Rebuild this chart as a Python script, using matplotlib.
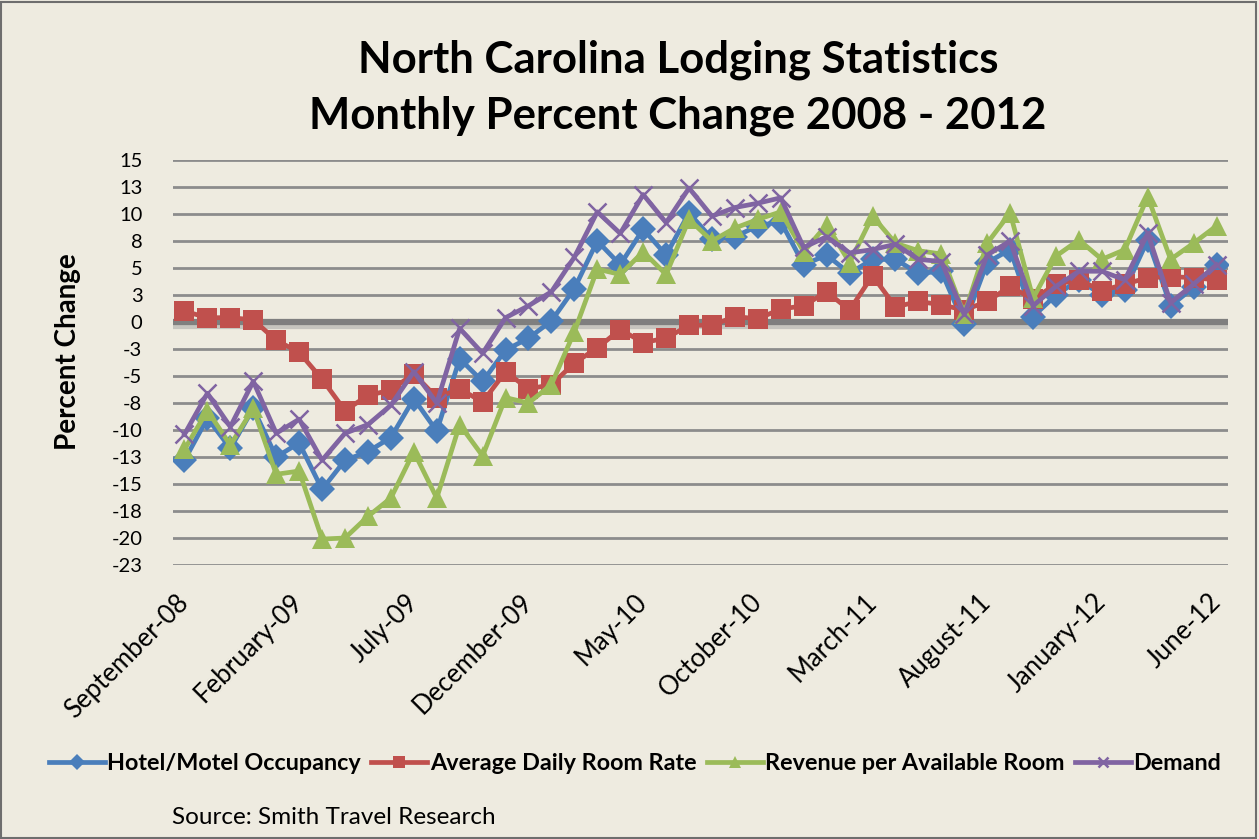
import matplotlib
matplotlib.use("Agg")
import matplotlib.pyplot as plt
import matplotlib.patheffects as pe
import numpy as np

# ---- data ----
months = ["September-08","October-08","November-08","December-08","January-09","February-09",
          "March-09","April-09","May-09","June-09","July-09","August-09","September-09",
          "October-09","November-09","December-09","January-10","February-10","March-10",
          "April-10","May-10","June-10","July-10","August-10","September-10","October-10",
          "November-10","December-10","January-11","February-11","March-11","April-11",
          "May-11","June-11","July-11","August-11","September-11","October-11","November-11",
          "December-11","January-12","February-12","March-12","April-12","May-12","June-12"]

occupancy = [-12.8, -8.9, -11.7, -8.0, -12.5, -11.2, -15.5, -12.8, -12.0, -10.7,
             -7.1, -10.1, -3.4, -5.5, -2.6, -1.5, 0.1, 3.1, 7.5, 5.3,
             8.6, 6.2, 10.1, 7.7, 7.9, 8.9, 9.3, 5.3, 6.2, 4.5,
             5.8, 5.8, 4.5, 4.7, -0.2, 5.5, 6.7, 0.5, 2.5, 3.9,
             2.5, 3.0, 7.6, 1.5, 3.2, 5.3]

adr = [1.0, 0.4, 0.4, 0.2, -1.7, -2.8, -5.3, -8.2, -6.8, -6.3,
       -4.8, -7.0, -6.2, -7.4, -4.6, -6.2, -5.8, -3.8, -2.4, -0.7,
       -1.9, -1.5, -0.3, -0.3, 0.5, 0.3, 1.2, 1.5, 2.8, 1.1,
       4.3, 1.4, 1.9, 1.6, 1.1, 1.9, 3.3, 2.1, 3.5, 3.9,
       2.9, 3.5, 4.1, 4.2, 4.1, 3.9]

revpar = [-11.8, -8.2, -11.4, -8.0, -14.1, -13.8, -20.1, -20.0, -18.0, -16.3,
          -12.0, -16.3, -9.5, -12.4, -7.0, -7.5, -5.8, -0.9, 4.9, 4.4,
          6.5, 4.4, 9.5, 7.5, 8.7, 9.5, 10.2, 6.5, 9.0, 5.5,
          9.8, 7.3, 6.6, 6.3, 0.7, 7.3, 10.1, 2.2, 6.1, 7.6,
          5.8, 6.7, 11.6, 5.8, 7.3, 8.9]

demand = [-10.4, -6.6, -9.7, -5.5, -10.3, -9.0, -12.8, -10.3, -9.5, -7.7,
          -4.6, -7.5, -0.6, -2.9, 0.4, 1.5, 2.8, 6.0, 10.2, 8.2,
          11.8, 9.2, 12.4, 9.8, 10.6, 11.0, 11.5, 6.9, 7.9, 6.4,
          6.7, 7.2, 5.8, 5.6, 0.7, 6.2, 7.5, 1.5, 3.3, 4.7,
          4.7, 3.9, 8.2, 1.8, 3.5, 5.3]

series_names = ["Hotel/Motel Occupancy", "Average Daily Room Rate",
                "Revenue per Available Room", "Demand"]

ytick_values = [15, 12.5, 10, 7.5, 5, 2.5, 0, -2.5, -5, -7.5, -10, -12.5, -15, -17.5, -20, -22.5]
ytick_labels = ["15", "13", "10", "8", "5", "3", "0", "-3", "-5", "-8",
                "-10", "-13", "-15", "-18", "-20", "-23"]

title_lines = ["North Carolina Lodging Statistics", "Monthly Percent Change 2008 - 2012"]
source = "Source: Smith Travel Research"

# ---- style ----
BG = "#EEEBE0"
FONT = "Lato"
plt.rcParams["font.family"] = [FONT, "DejaVu Sans"]

W, H = 1259, 839
fig = plt.figure(figsize=(W/100, H/100), dpi=100, facecolor=BG)
ax = fig.add_axes([173/W, 1-565/H, (1228-173)/W, (565-160)/H])
ax.set_facecolor(BG)

x = np.arange(len(months))

ax.set_ylim(-22.5, 15)
ax.set_xlim(-0.5, len(months) - 0.5)
for v in ytick_values:
    if v != 0:
        ax.axhline(v, color="#8C8C8C", lw=2.0, zorder=1)
ax.axhline(0, color="#7F7F7F", lw=4.5, zorder=1.5,
           path_effects=[pe.SimpleLineShadow(offset=(0, -3), shadow_color="#A0A0A0", alpha=0.5),
                         pe.Normal()])

styles = [
    dict(color="#4A7EBB", marker="D", ms=13),
    dict(color="#C0504D", marker="s", ms=14),
    dict(color="#9BBB59", marker="^", ms=15),
    dict(color="#8064A2", marker="x", ms=13, mew=1.8),
]
handles = []
for data, name, st in zip([occupancy, adr, revpar, demand], series_names, styles):
    kw = dict(st)
    mew = kw.pop("mew", 0)
    h, = ax.plot(x, data, color=kw["color"], lw=3.4, marker=kw["marker"], ms=kw["ms"],
                 mec=kw["color"], mfc=kw["color"], mew=mew, label=name, zorder=3)
    handles.append(h)

for s in ax.spines.values():
    s.set_visible(False)

ax.set_yticks(ytick_values)
ax.set_yticklabels(ytick_labels, fontsize=14.5)
ax.tick_params(axis="y", length=0, pad=22)

tick_idx = list(range(0, len(months), 5))
ax.set_xticks(tick_idx)
ax.set_xticklabels([months[i] for i in tick_idx], rotation=45, ha="right", va="center",
                   rotation_mode="anchor", fontsize=18.5)
ax.tick_params(axis="x", length=0, pad=24)

fig.text(68/W, 1 - 352/H, "Percent Change", rotation=90, ha="center", va="center",
         fontsize=20, fontweight="bold")

fig.text(678/W, 1 - 72/H, title_lines[0], ha="center", va="baseline", fontsize=31.5,
         fontweight="bold")
fig.text(678/W, 1 - 128/H, title_lines[1], ha="center", va="baseline", fontsize=31.5,
         fontweight="bold")

leg = fig.legend(handles=handles, loc="center", bbox_to_anchor=(635/W, 1 - 764/H),
                 ncol=4, frameon=False, prop=dict(family=FONT, weight="bold", size=16.8),
                 handlelength=2.4, handletextpad=0.1, columnspacing=0.45, markerscale=0.6)

fig.text(172/W, 1 - 817/H, source, ha="left", va="center", fontsize=17.5)

# outer border
fig.patches.append(plt.Rectangle((0.001, 0.001), 0.997, 0.997, transform=fig.transFigure,
                                 fill=False, edgecolor="#6E6E6E", lw=1.5))

fig.savefig("out.png", dpi=100, facecolor=BG)
